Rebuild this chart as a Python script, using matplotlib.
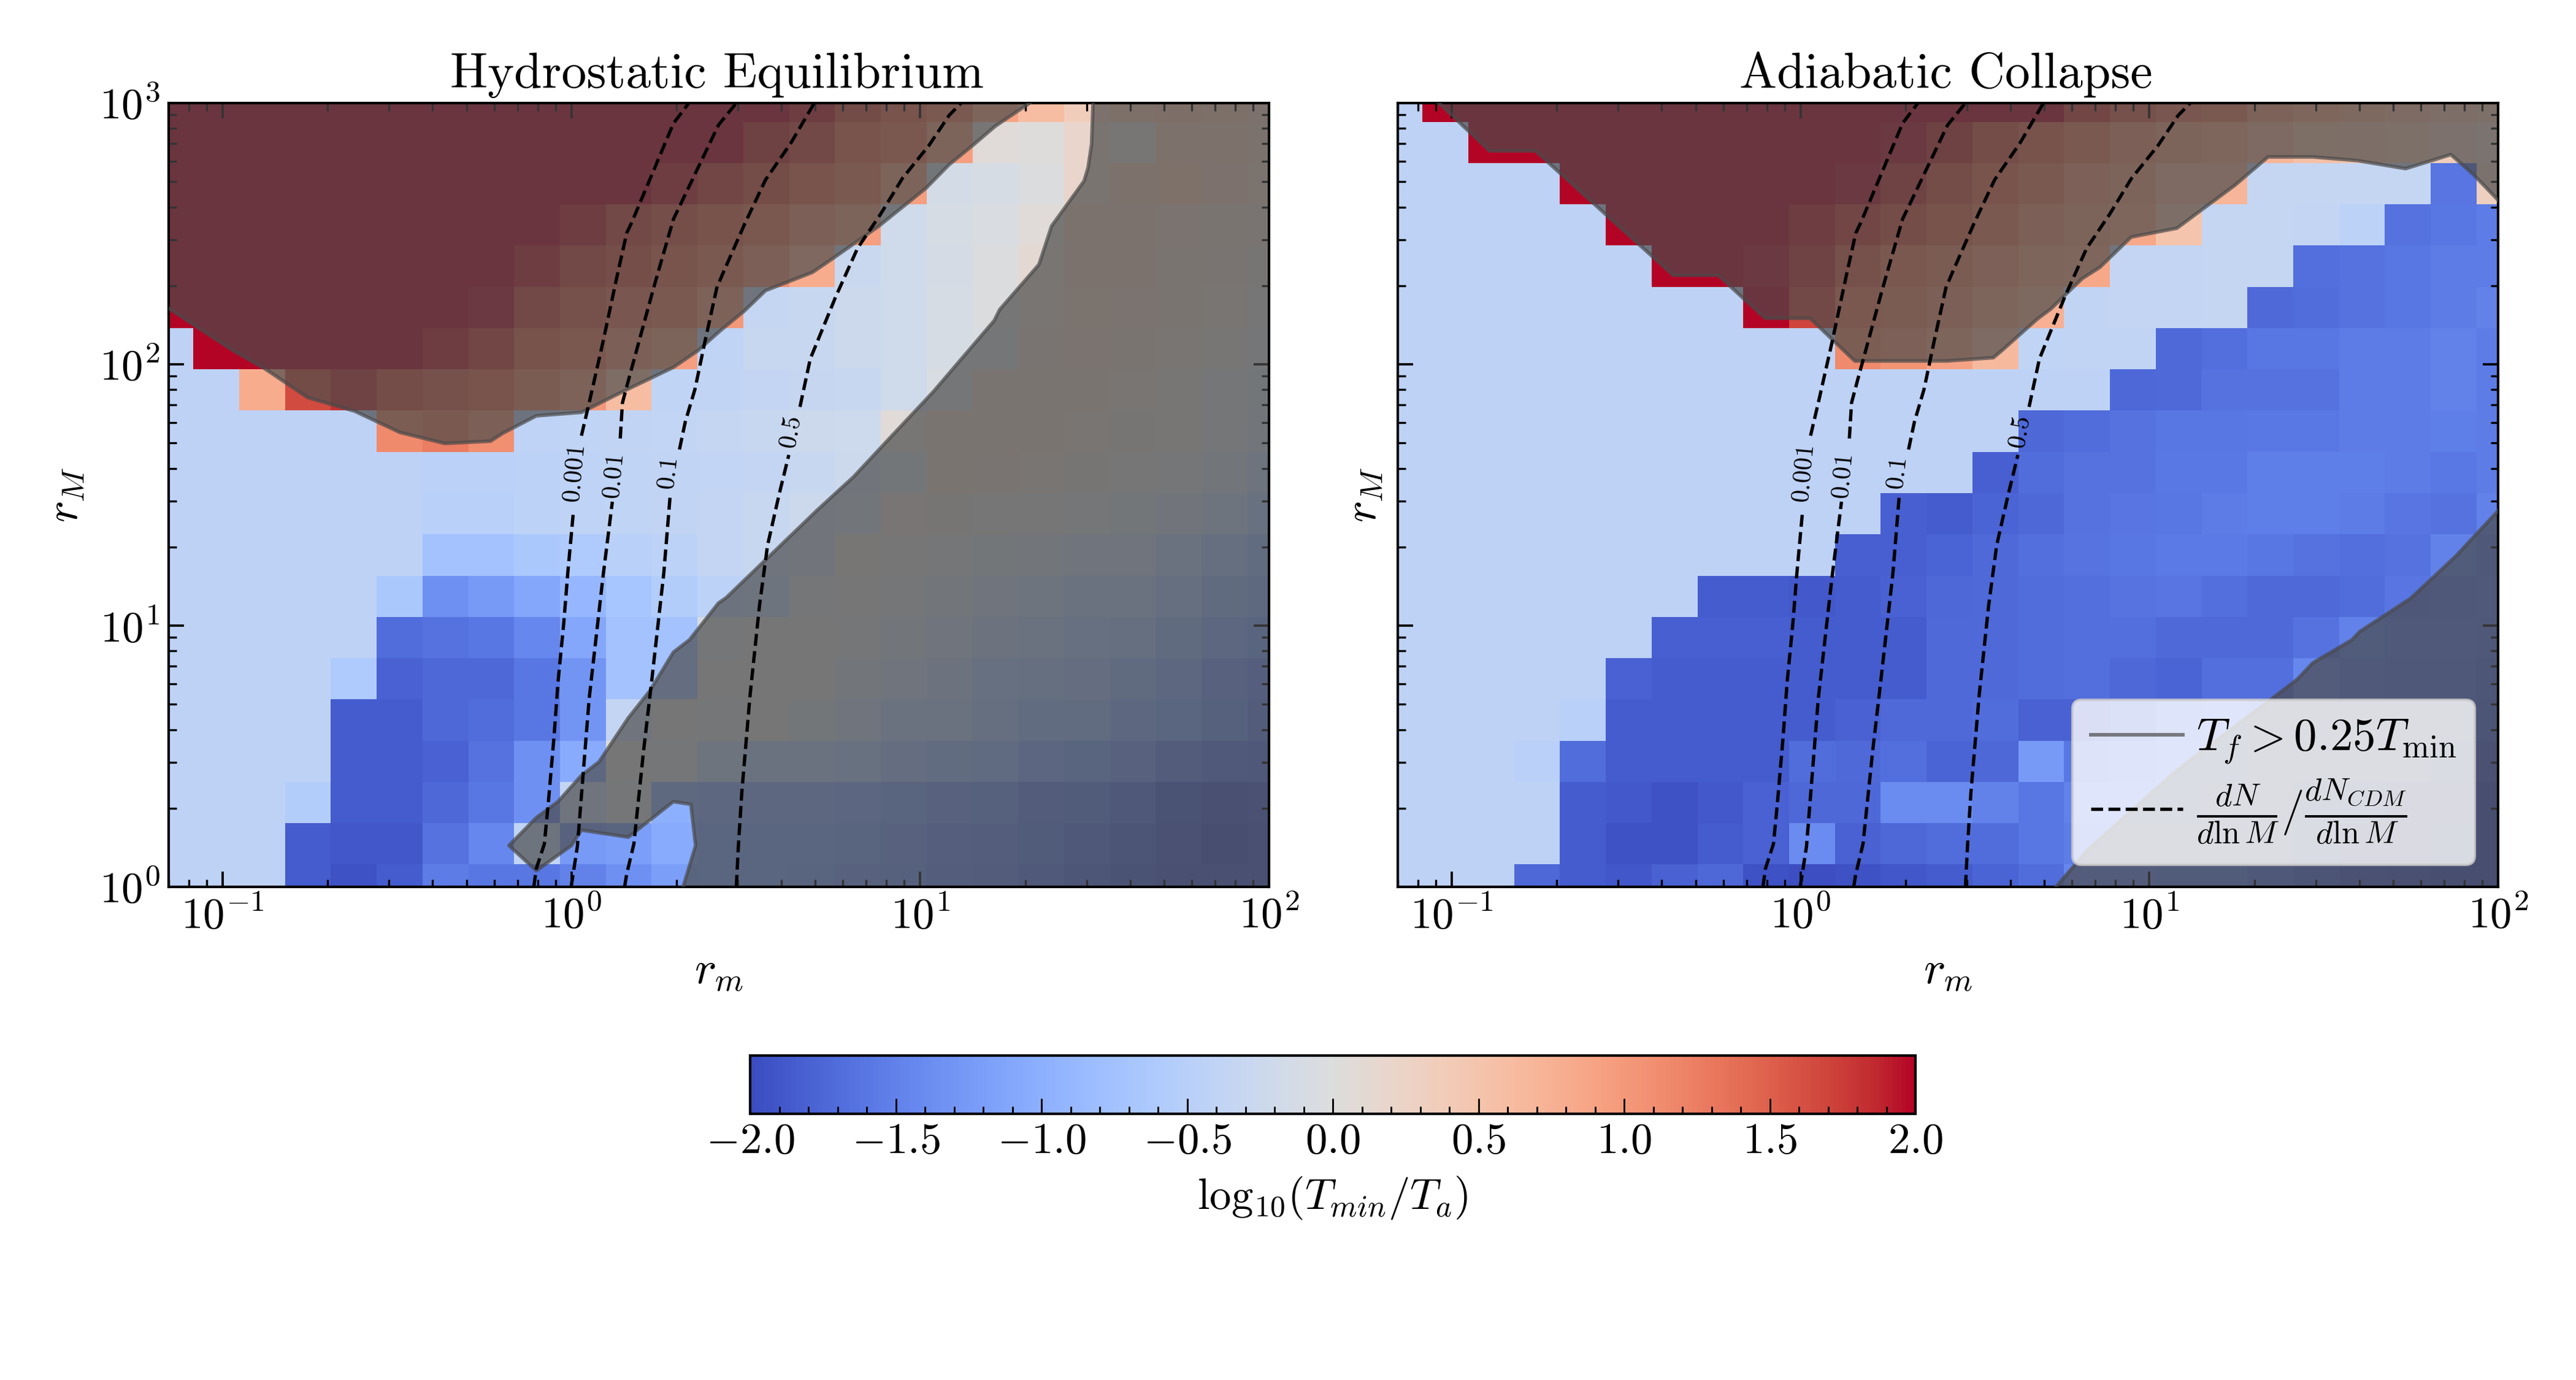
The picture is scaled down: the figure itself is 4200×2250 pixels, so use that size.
import numpy as np
import matplotlib
matplotlib.use('Agg')
import matplotlib.pyplot as plt
from matplotlib.ticker import LogLocator, MultipleLocator

plt.rcParams['font.family'] = 'cmr10'
plt.rcParams['mathtext.fontset'] = 'cm'
plt.rcParams['axes.formatter.use_mathtext'] = True
plt.rcParams['axes.unicode_minus'] = False

# grid centres of the two maps
r_m = [0.07, 0.0947, 0.1282, 0.1735, 0.2348, 0.3178, 0.4301, 0.5821, 0.7878, 1.066, 1.443, 1.953, 2.643,
       3.577, 4.841, 6.551, 8.866, 12.0, 16.24, 21.98, 29.74, 40.25, 54.48, 73.73, 100.0]
r_M = [1.0, 1.438, 2.069, 2.976, 4.281, 6.158, 8.859, 12.74, 18.33, 26.37, 37.93, 54.56, 78.48, 112.9,
       162.4, 233.6, 336.0, 483.3, 695.2, 1000.0]

L = -0.43

# log10(Tmin/Ta), rows run from r_M = 1 upwards
hydro_z = [
    [L, L, L, -1.85, -1.95, -1.85, -1.55, -1.6, -1.6, -1.5, -1.35, -1.2, -1.15, -1.15, -1.2, -1.25, -1.3, -1.4, -1.45, -1.55, -1.65, -1.75, -1.85, -1.85, -1.85],
    [L, L, L, -1.85, -1.9, -1.9, -1.65, -1.45, -0.4, -1.25, -1.2, -1.05, -1.15, -1.15, -1.15, -1.2, -1.25, -1.35, -1.4, -1.5, -1.6, -1.7, -1.8, -1.9, -1.85],
    [L, L, L, -0.55, -1.85, -1.85, -1.75, -1.6, -1.35, -0.35, -0.1, -1.0, -1.05, -1.05, -1.05, -1.1, -1.2, -1.25, -1.3, -1.45, -1.5, -1.6, -1.75, -1.85, -1.8],
    [L, L, L, L, -1.85, -1.85, -1.8, -1.65, -1.35, -1.05, 0, -0.05, -0.4, -0.5, -0.5, -0.6, -0.75, -0.85, -0.95, -1.1, -1.2, -1.25, -1.45, -1.55, -1.6],
    [L, L, L, L, -1.85, -1.85, -1.75, -1.7, -1.6, -1.3, -0.35, 0, -0.05, 0, -0.15, -0.3, -0.5, -0.55, -0.7, -0.85, -0.85, -1.05, -1.15, -1.3, -1.45],
    [L, L, L, L, -0.6, -1.8, -1.75, -1.75, -1.6, -1.3, -0.75, -0.75, 0, 0, 0, -0.2, -0.3, -0.45, -0.65, -0.7, -0.75, -0.9, -1.05, -1.25, -1.35],
    [L, L, L, L, L, -1.7, -1.65, -1.6, -1.45, -1.1, -0.75, -0.75, -0.1, 0, 0, -0.05, -0.2, -0.3, -0.45, -0.5, -0.65, -0.7, -0.9, -1.05, -1.2],
    [L, L, L, L, L, -0.65, -1.35, -1.25, -1.1, -0.9, -0.7, -0.55, -0.45, -0.4, -0.05, 0, -0.1, -0.2, -0.3, -0.4, -0.5, -0.55, -0.7, -0.9, -1.0],
    [L, L, L, L, L, L, -0.75, -0.75, -0.65, -0.6, -0.5, -0.45, -0.35, -0.3, -0.25, 0.05, 0, -0.05, -0.15, -0.2, -0.3, -0.35, -0.5, -0.7, -0.85],
    [L, L, L, L, L, L, -0.5, -0.5, -0.45, -0.42, -0.4, -0.38, -0.35, -0.3, -0.25, -0.2, 0.08, 0.07, 0, 0, -0.1, -0.15, -0.25, -0.4, -0.6],
    [L, L, L, L, L, L, -0.46, -0.46, -0.44, -0.42, -0.4, -0.38, -0.36, -0.35, -0.3, -0.25, -0.15, 0.18, 0.15, 0.1, 0.07, 0, -0.05, -0.2, -0.4],
    [L, L, L, L, L, 1.15, 1.25, 1.1, -0.42, -0.4, -0.38, -0.36, -0.33, -0.3, -0.25, -0.22, 0.05, 0.2, 0.2, 0.18, 0.1, 0.07, 0.05, -0.05, -0.2],
    [L, L, 0.8, 1.65, 1.8, 1.6, 1.5, 1.4, 1.2, 1.0, 0.6, -0.4, -0.38, -0.35, -0.32, -0.3, -0.2, -0.05, 0.2, 0.2, 0.2, 0.1, 0.05, -0.05, -0.15],
    [L, 2, 2, 2, 2, 2, 1.9, 1.75, 1.45, 1.3, 1.1, 0.95, -0.4, -0.3, -0.3, -0.25, -0.2, -0.1, -0.05, 0.15, 0.25, 0.2, 0.1, 0.05, -0.05],
    [2, 2, 2, 2, 2, 2, 2, 1.95, 1.7, 1.5, 1.35, 1.25, 1.0, -0.33, -0.3, -0.25, -0.2, -0.1, -0.03, 0.12, 0.28, 0.25, 0.18, 0.1, 0],
    [2, 2, 2, 2, 2, 2, 2, 2, 1.9, 1.7, 1.55, 1.4, 1.25, 1.1, 0.8, -0.28, -0.2, -0.12, -0.03, 0.12, 0.3, 0.3, 0.22, 0.15, 0.07],
    [2, 2, 2, 2, 2, 2, 2, 2, 2, 1.9, 1.7, 1.55, 1.45, 1.3, 1.1, 0.95, -0.2, -0.1, -0.05, 0.05, 0.3, 0.32, 0.26, 0.2, 0.15],
    [2, 2, 2, 2, 2, 2, 2, 2, 2, 2, 2, 1.9, 1.75, 1.6, 1.4, 1.25, 0.95, -0.15, -0.1, -0.02, 0.2, 0.4, 0.42, 0.35, 0.28],
    [2, 2, 2, 2, 2, 2, 2, 2, 2, 2, 2, 2, 2, 1.85, 1.7, 1.4, 1.3, 0.95, 0.05, 0.03, 0.2, 0.05, 0.4, 0.4, 0.32],
    [2, 2, 2, 2, 2, 2, 2, 2, 2, 2, 2, 2, 2, 2, 1.9, 1.65, 1.4, 1.25, 0.9, 0.6, 0.35, 0.45, 0.5, 0.45, 0.35],
]

adiabatic_z = [
    [L, L, L, -1.75, -1.85, -1.9, -1.8, -1.75, -1.95, -1.98, -1.95, -1.9, -1.85, -1.78, -1.7, -1.45, -1.45, -1.5, -1.5, -1.6, -1.7, -1.8, -1.85, -1.9, -1.9],
    [L, L, L, L, -1.85, -1.95, -1.95, -1.85, -1.8, -1.4, -1.8, -1.75, -1.7, -1.7, -1.6, -1.55, -1.55, -1.55, -1.55, -1.6, -1.7, -1.8, -1.85, -1.9, -1.9],
    [L, L, L, L, -1.85, -1.88, -1.95, -1.88, -1.8, -1.75, -1.75, -1.4, -1.4, -1.5, -1.6, -1.5, -1.5, -1.5, -1.55, -1.6, -1.65, -1.7, -1.8, -1.85, -1.9],
    [L, L, L, -0.48, -1.7, -1.85, -1.85, -1.85, -1.85, -1.7, -1.72, -1.68, -1.78, -1.75, -1.25, -1.6, -1.55, -1.5, -1.5, -1.55, -1.55, -1.6, -1.6, -1.7, -1.8],
    [L, L, L, L, -0.5, -1.85, -1.85, -1.85, -1.85, -1.85, -1.8, -1.72, -1.72, -1.7, -1.8, -1.8, -1.7, -1.55, -1.5, -1.55, -1.55, -1.55, -1.6, -1.6, -1.7],
    [L, L, L, L, L, -1.8, -1.85, -1.85, -1.85, -1.85, -1.85, -1.85, -1.72, -1.72, -1.7, -1.68, -1.75, -1.78, -1.68, -1.68, -1.45, -1.55, -1.6, -1.6, -1.65],
    [L, L, L, L, L, L, -1.82, -1.82, -1.82, -1.85, -1.85, -1.85, -1.72, -1.72, -1.7, -1.68, -1.68, -1.72, -1.72, -1.72, -1.65, -1.5, -1.55, -1.55, -1.6],
    [L, L, L, L, L, L, L, -1.85, -1.85, -1.88, -1.85, -1.8, -1.75, -1.72, -1.7, -1.68, -1.63, -1.62, -1.68, -1.72, -1.72, -1.7, -1.62, -1.6, -1.55],
    [L, L, L, L, L, L, L, L, L, L, -1.82, -1.82, -1.78, -1.72, -1.68, -1.63, -1.6, -1.57, -1.57, -1.6, -1.65, -1.68, -1.65, -1.5, -1.6],
    [L, L, L, L, L, L, L, L, L, L, L, -1.82, -1.85, -1.78, -1.75, -1.65, -1.62, -1.6, -1.55, -1.52, -1.52, -1.55, -1.62, -1.65, -1.5],
    [L, L, L, L, L, L, L, L, L, L, L, L, L, -1.82, -1.7, -1.65, -1.65, -1.58, -1.58, -1.52, -1.52, -1.52, -1.55, -1.58, -1.55],
    [L, L, L, L, L, L, L, L, L, L, L, L, L, L, -1.75, -1.7, -1.65, -1.6, -1.6, -1.58, -1.58, -1.55, -1.55, -1.52, -1.55],
    [L, L, L, L, L, L, L, L, L, L, L, L, L, L, L, L, -1.75, -1.72, -1.65, -1.65, -1.65, -1.55, -1.55, -1.5, -1.55],
    [L, L, L, L, L, L, L, L, L, L, 1.15, 1.05, 0.9, 0.65, -0.4, -0.38, -0.38, -1.72, -1.68, -1.6, -1.6, -1.55, -1.55, -1.5, -1.55],
    [L, L, L, L, L, L, L, L, 2, 1.7, 1.3, 1.2, 1.1, 0.9, 0.75, -0.38, -0.35, -0.35, -0.33, -1.72, -1.7, -1.65, -1.6, -1.55, -1.5],
    [L, L, L, L, L, L, 2, 2, 1.95, 1.8, 1.5, 1.3, 1.2, 1.05, 0.9, 0.85, -0.35, -0.35, -0.33, -0.33, -1.68, -1.65, -1.6, -1.55, -1.55],
    [L, L, L, L, L, 2, 2, 2, 2, 1.9, 1.75, 1.6, 1.45, 1.25, 1.1, 0.95, 0.85, 0.5, -0.33, -0.33, -0.35, -0.45, -1.65, -1.6, -1.55],
    [L, L, L, L, 2, 2, 2, 2, 2, 2, 1.95, 1.8, 1.6, 1.4, 1.25, 1.05, 0.95, 0.7, 0.7, -0.33, -0.33, -0.33, -0.33, -1.62, 0.3],
    [L, L, 2, 2, 2, 2, 2, 2, 2, 2, 2, 1.95, 1.85, 1.6, 1.45, 1.25, 1.1, 0.95, 0.85, 0.7, 0.55, 0.5, 0.45, 0.35, 0.25],
    [L, 2, 2, 2, 2, 2, 2, 2, 2, 2, 2, 2, 2, 2, 2, 1.75, 1.5, 1.35, 1.25, 1.0, 0.85, 0.75, 0.65, 0.5, 0.45],
]

# Tf > 0.25 Tmin regions
hydro_top_x = [0.07, 0.1074, 0.132, 0.175, 0.239, 0.322, 0.433, 0.586, 0.637, 0.793, 1.068, 1.40, 1.96, 2.30, 2.68, 3.13,
               3.60, 4.91, 5.66, 7.61, 10.4, 12.1, 14.3, 16.4, 20.6]
hydro_top_y = [163.7, 112.6, 96.3, 74.7, 66.2, 54.9, 49.8, 50.8, 54.6, 63.5, 65.5, 78.5, 97.4, 112.6, 135, 160,
               191.5, 225, 256, 338, 473, 581, 697, 815, 1000]
hydro_right_x = [31.3, 31.0, 30.3, 29.5, 23.8, 21.9, 16.9, 16.3, 10.9, 8.44, 6.44, 5.10, 2.78, 2.64, 2.18, 1.96, 1.68,
                 1.455, 1.20, 1.068, 0.915, 0.793, 0.662, 0.793, 1.0, 1.068, 1.455, 1.96, 2.20, 2.27, 2.09]
hydro_right_y = [1000, 697, 567, 503, 338, 241, 162, 147, 78.5, 54.6, 37.1, 27.9, 12.8, 12.2, 8.82, 7.91, 5.64,
                 4.43, 3.01, 2.67, 2.12, 1.84, 1.44, 1.153, 1.44, 1.65, 1.55, 2.12, 2.07, 1.44, 1.0]
adia_top_x = [0.0918, 0.1283, 0.1736, 0.4315, 0.581, 0.791, 1.065, 1.43, 2.63, 3.57, 3.78, 4.77, 5.22, 6.42, 7.21, 8.87,
              12.0, 17.6, 21.9, 29.4, 39.6, 54.3, 73.2, 84.8, 100]
adia_top_y = [1000, 656, 656, 219, 219, 150, 150, 103, 103, 106, 113, 149, 163, 213, 235, 307,
              332, 485, 622, 622, 602, 561, 635, 534, 425]
adia_low_x = [5.40, 6.67, 11.8, 13.06, 21.9, 26.5, 29.4, 38.1, 40.1, 56.1, 75.5, 100]
adia_low_y = [1.0, 1.39, 2.74, 3.05, 5.12, 6.21, 7.19, 8.82, 9.48, 12.7, 18.4, 27.5]

# dN/dlnM over the CDM value, same curves on both panels, nan where the label sits
frac_001_x = [0.78, 0.793, 0.836, 0.857, 0.891, 0.915, 0.951, 0.976, 1.014, np.nan, 1.068, 1.124, 1.23, 1.35, 1.44, 1.49, 1.96, 2.17]
frac_001_y = [1.0, 1.175, 1.46, 2.05, 3.74, 6.07, 10.3, 15.9, 27.7, np.nan, 53.3, 71.2, 121, 216, 318, 350, 835, 1000]
frac_01_x = [0.998, 1.04, 1.124, 1.23, 1.31, np.nan, 1.38, 1.40, 1.455, 1.72, 1.96, 2.64, 2.97]
frac_01_y = [1.0, 1.43, 5.25, 15.2, 29.8, np.nan, 52, 71.2, 86.4, 196, 359, 824, 1000]
frac_1_x = [1.42, 1.44, 1.51, 1.61, 1.70, 1.84, 1.92, np.nan, 2.04, 2.12, 2.26, 2.41, 2.61, 2.71, 3.13, 3.60, 4.26, 4.97]
frac_1_y = [1.0, 1.12, 1.46, 3.32, 6.21, 15.9, 31.8, np.nan, 47.2, 60.2, 80.3, 121, 196, 221, 342, 508, 704, 1000]
frac_5_x = [2.97, 3.01, 3.08, 3.25, 3.46, 3.65, 3.94, 4.2, np.nan, 4.52, 4.84, 5.73, 6.61, 7.71, 8.89, 10.6, 12.1, 13.1]
frac_5_y = [1.0, 1.43, 2.31, 5.38, 11.9, 20.3, 31.8, 45, np.nan, 68.7, 105, 182, 278, 377, 515, 689, 897, 1000]

frac_labels = ['0.001', '0.01', '0.1', '0.5']
frac_label_x = [1.027, 1.33, 1.91, 4.29]
frac_label_y = [38, 37, 38, 54.6]
frac_label_rot = [85, 85, 84, 80]

cbar_ticks = [-2.0, -1.5, -1.0, -0.5, 0.0, 0.5, 1.0, 1.5, 2.0]

W, H = 4200, 2250
fig = plt.figure(figsize=(14, 7.5), dpi=300)
ax1 = fig.add_axes([275 / W, 1 - 1446 / H, 1794 / W, 1278 / H])
ax2 = fig.add_axes([2279 / W, 1 - 1446 / H, 1794 / W, 1278 / H])
cax = fig.add_axes([1223 / W, 1 - 1816 / H, 1900 / W, 95 / H])

fill_color = '#4b4b4b'
line_color = '#4a4a4a'


def draw_region(ax, xs, ys, close_x, close_y):
    ax.fill(list(xs) + close_x, list(ys) + close_y, color=fill_color, alpha=0.7, lw=0, zorder=2)
    return ax.plot(xs, ys, color=line_color, alpha=0.7, lw=1.4, zorder=3)[0]


for ax, z, title in [(ax1, hydro_z, 'Hydrostatic Equilibrium'), (ax2, adiabatic_z, 'Adiabatic Collapse')]:
    mesh = ax.pcolormesh(r_m, r_M, np.array(z), cmap='coolwarm', vmin=-2, vmax=2, shading='nearest', zorder=1)
    ax.set_xscale('log')
    ax.set_yscale('log')
    ax.set_xlim(0.07, 100)
    ax.set_ylim(1, 1000)
    ax.set_title(title, fontsize=19.6, pad=6, x=0.4985)
    ax.set_xlabel('$r_m$', fontsize=18, labelpad=6)
    ax.set_ylabel('$r_M$', fontsize=18, labelpad=5)
    ax.xaxis.set_minor_locator(LogLocator(base=10, subs=np.arange(2, 10) * 0.1, numticks=20))
    ax.yaxis.set_minor_locator(LogLocator(base=10, subs=np.arange(2, 10) * 0.1, numticks=20))
    ax.tick_params(which='both', direction='in', top=True, right=True, labelsize=17)
    ax.tick_params(which='major', length=6, width=0.9)
    ax.tick_params(which='minor', length=3, width=0.8)
    for s in ax.spines.values():
        s.set_linewidth(1.0)

    dashed = None
    for xs, ys in [(frac_001_x, frac_001_y), (frac_01_x, frac_01_y), (frac_1_x, frac_1_y), (frac_5_x, frac_5_y)]:
        dashed = ax.plot(xs, ys, color='k', ls='--', lw=1.3, dashes=(3.6, 1.6), zorder=4)[0]
    for lab, lx, ly, rot in zip(frac_labels, frac_label_x, frac_label_y, frac_label_rot):
        ax.text(lx, ly, '$\\mathit{' + lab + '}$', fontsize=10, rotation=rot, ha='center', va='center', zorder=4)

ax2.tick_params(which='both', labelleft=False)

draw_region(ax1, hydro_top_x, hydro_top_y, [20.6, 0.07], [1000, 1000])
draw_region(ax1, hydro_right_x, hydro_right_y, [100, 100], [1, 1000])
tf_line = draw_region(ax2, adia_top_x, adia_top_y, [100, 0.0918], [1000, 1000])
draw_region(ax2, adia_low_x, adia_low_y, [100], [1])

leg = ax2.legend([tf_line, dashed],
                 [r'$T_f > 0.25 T_{\rm min}$', r'$\frac{dN}{d\ln M}/\frac{dN_{CDM}}{d\ln M}$'],
                 loc='lower right', bbox_to_anchor=(0.979, 0.028), borderaxespad=0, fontsize=18,
                 handlelength=2.0, handletextpad=0.3, labelspacing=0.25, framealpha=0.8)
leg.set_zorder(6)

cbar = fig.colorbar(mesh, cax=cax, orientation='horizontal')
cbar.set_ticks(cbar_ticks)
cbar.ax.xaxis.set_minor_locator(MultipleLocator(0.1))
cbar.ax.tick_params(which='both', direction='in', labelsize=17)
cbar.ax.tick_params(which='major', length=6, width=0.7)
cbar.ax.tick_params(which='minor', length=3, width=0.7)
cbar.outline.set_linewidth(1.0)
cbar.set_label(r'$\mathrm{log}_{10}(T_{min}/T_a)$', fontsize=17, labelpad=5)

fig.savefig('out.png', dpi=300)
